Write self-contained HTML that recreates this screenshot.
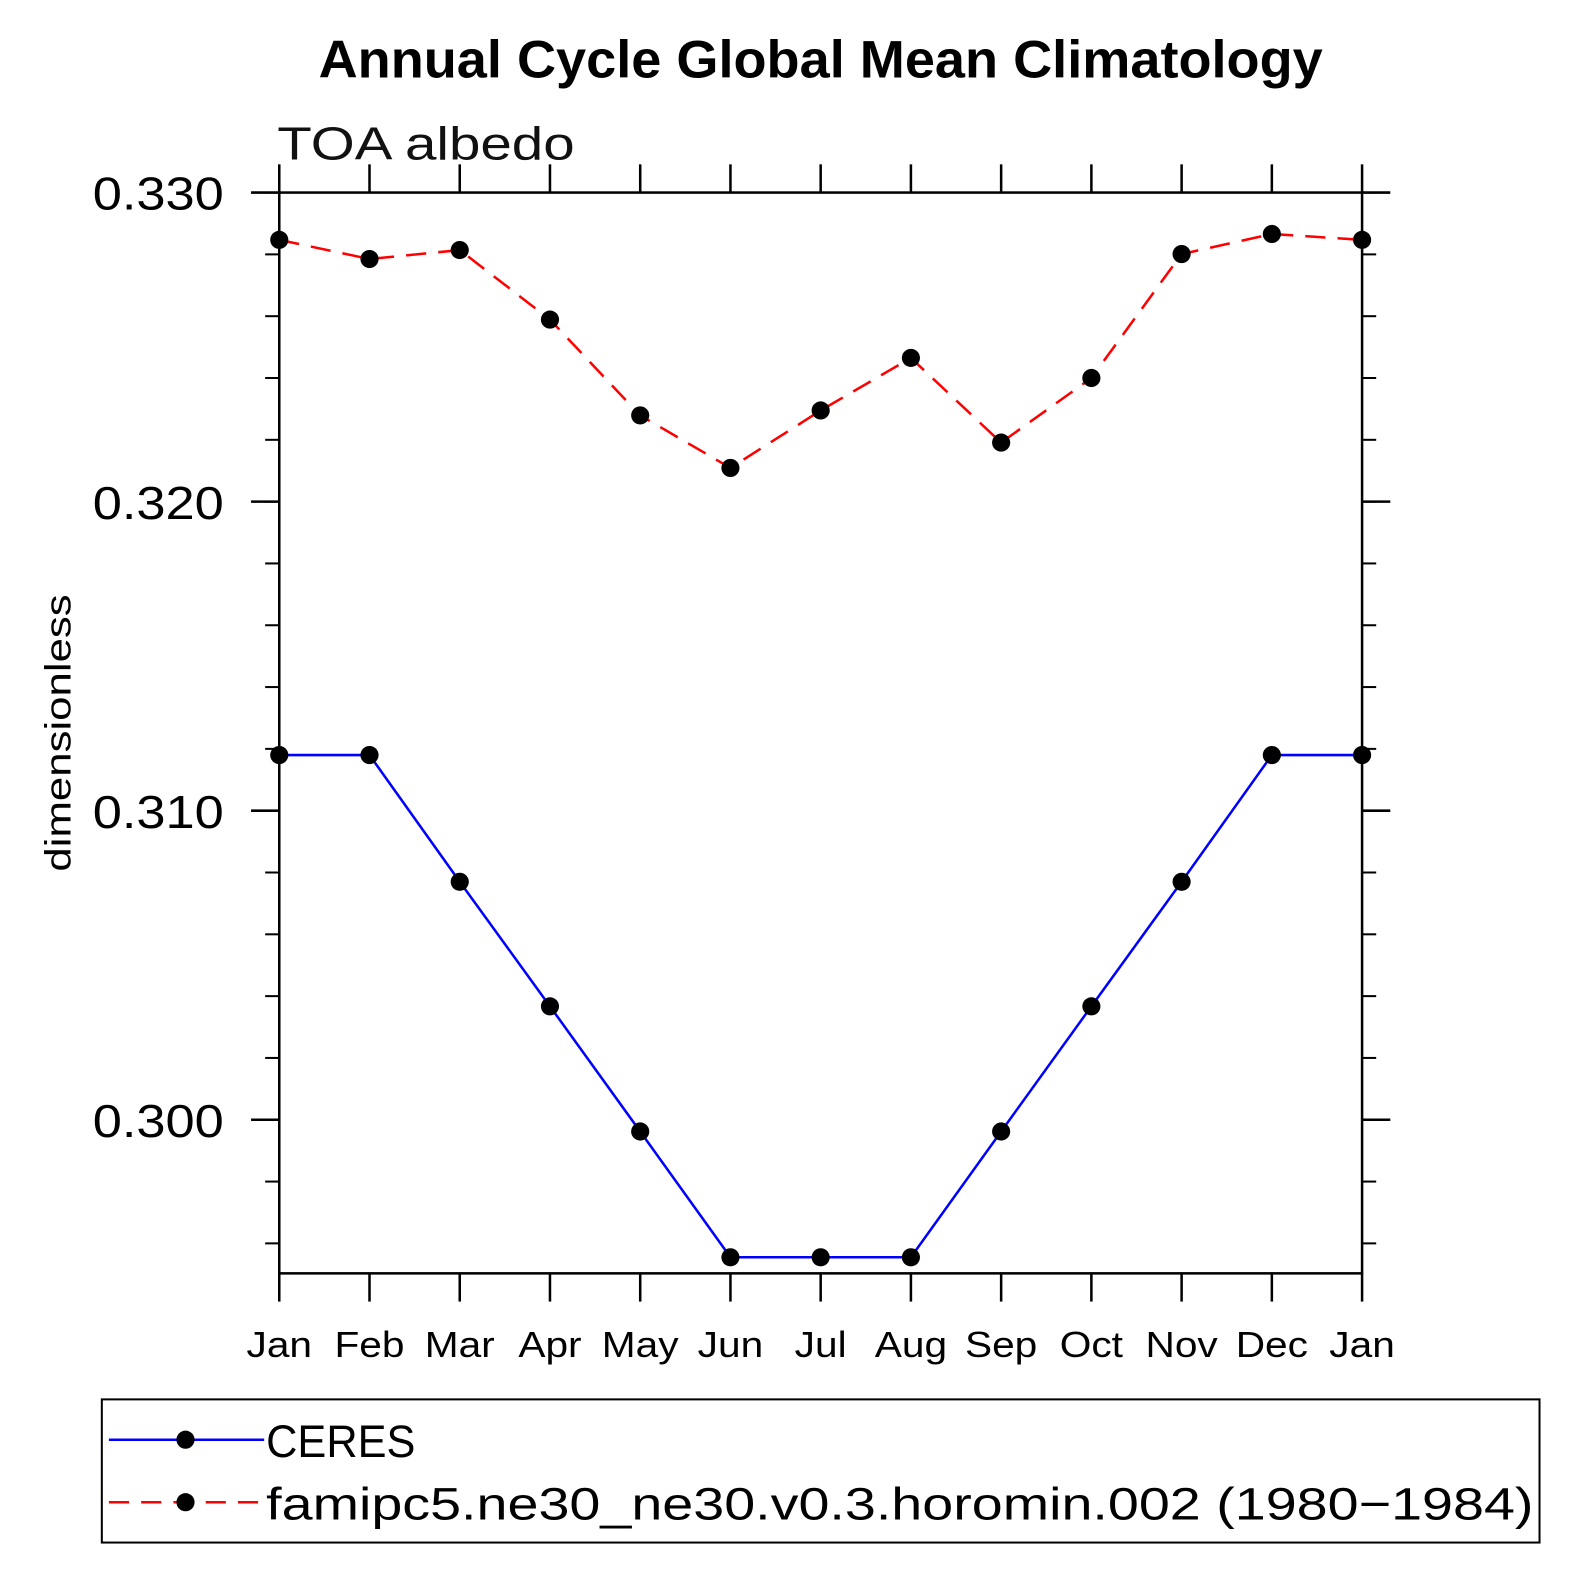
<!DOCTYPE html>
<html><head><meta charset="utf-8"><style>
html,body{margin:0;padding:0;background:#fff;}
svg{display:block;}
text{font-family:"Liberation Sans",sans-serif;}
</style></head><body>
<svg id="chart" width="1580" height="1580" viewBox="0 0 1580 1580" xmlns="http://www.w3.org/2000/svg">
<g transform="scale(1.0082)">
<text x="316" y="77" font-size="52" font-weight="bold" textLength="996" lengthAdjust="spacingAndGlyphs">Annual Cycle Global Mean Climatology</text>
<text x="275" y="158" font-size="46" fill="#111" textLength="295" lengthAdjust="spacingAndGlyphs">TOA albedo</text>
<text transform="translate(70,727) rotate(-90)" font-size="36" text-anchor="middle" textLength="275" lengthAdjust="spacingAndGlyphs">dimensionless</text>
<g id="axes"></g>
<g id="series"></g>
<rect x="101" y="1388" width="1426" height="142" fill="none" stroke="#000" stroke-width="2"/>
<g>
<line x1="108" y1="1428" x2="262" y2="1428" stroke="#00f" stroke-width="2.5"/>
<circle cx="184" cy="1428" r="9"/>
<text x="264" y="1445" font-size="45" textLength="148" lengthAdjust="spacingAndGlyphs">CERES</text>
</g>
<g>
<line x1="108" y1="1490" x2="262" y2="1490" stroke="#f00" stroke-width="2.5" stroke-dasharray="20,12"/>
<circle cx="184" cy="1490" r="9"/>
<text x="264" y="1507" font-size="45" textLength="1257" lengthAdjust="spacingAndGlyphs">famipc5.ne30_ne30.v0.3.horomin.002 (1980−1984)</text>
</g>
</g>
</svg>
<script>
const months = ["Jan","Feb","Mar","Apr","May","Jun","Jul","Aug","Sep","Oct","Nov","Dec","Jan"];
const ceres = [0.3118,0.3118,0.3077,0.30367,0.29962,0.29555,0.29555,0.29555,0.29962,0.30367,0.3077,0.3118,0.3118];
const model = [0.32847,0.32785,0.32814,0.32589,0.32279,0.32109,0.32295,0.32465,0.32191,0.3240,0.32801,0.32866,0.32847];
const yTicks = [0.300,0.310,0.320,0.330];
const yTickLabels = ["0.300","0.310","0.320","0.330"];
const yMin = 0.29503, yMax = 0.330;
const X0=277, X1=1351, Y0=191, Y1=1263;
const NS="http://www.w3.org/2000/svg";
function sx(i){return X0+(X1-X0)*i/(months.length-1);}
function sy(v){return Y1-(v-yMin)/(yMax-yMin)*(Y1-Y0);}
function mk(tag,attrs,parent){const e=document.createElementNS(NS,tag);for(const k in attrs)e.setAttribute(k,attrs[k]);parent.appendChild(e);return e;}
const ax=document.getElementById('axes');
const fr=mk('rect',{x:X0,y:Y0,width:X1-X0,height:Y1-Y0,fill:'none',stroke:'#000','stroke-width':2.5},ax);


months.forEach((m,i)=>{
  const x=sx(i);
  mk('line',{x1:x,y1:Y1,x2:x,y2:Y1+28,stroke:'#000','stroke-width':2.5},ax);
  mk('line',{x1:x,y1:Y0,x2:x,y2:Y0-28,stroke:'#000','stroke-width':2.5},ax);
  const t=mk('text',{x:x,y:1346,'font-size':36,'text-anchor':'middle'},ax);
  t.textContent=m;
  
  
  const w=t.getComputedTextLength();
  if(w>0){t.setAttribute('textLength',w*1.12);t.setAttribute('lengthAdjust','spacingAndGlyphs');}
});
for(let v=0.296;v<0.3301;v+=0.002){
  const y=sy(v);
  mk('line',{x1:X0,y1:y,x2:X0-14,y2:y,stroke:'#000','stroke-width':2},ax);
  mk('line',{x1:X1,y1:y,x2:X1+14,y2:y,stroke:'#000','stroke-width':2},ax);
}
yTicks.forEach((v,i)=>{
  const y=sy(v);
  mk('line',{x1:X0,y1:y,x2:X0-28,y2:y,stroke:'#000','stroke-width':2.5},ax);
  mk('line',{x1:X1,y1:y,x2:X1+28,y2:y,stroke:'#000','stroke-width':2.5},ax);
  const t=mk('text',{x:92,y:y+17,'font-size':46,textLength:130,lengthAdjust:'spacingAndGlyphs'},ax);
  t.textContent=yTickLabels[i];
  
  
});
const sg=document.getElementById('series');
function drawSeries(vals,color,dash,name){
  const g=mk('g',{},sg);
  
  
  const pts=vals.map((v,i)=>sx(i)+','+sy(v)).join(' ');
  const pl=mk('polyline',{points:pts,fill:'none',stroke:color,'stroke-width':2.5,'stroke-dasharray':dash},g);
  
  
  vals.forEach((v,i)=>{
    const c=mk('circle',{cx:sx(i),cy:sy(v),r:9,fill:'#000'},g);
    
    
  });
}
drawSeries(ceres,'#00f','none','ceres-series');
drawSeries(model,'#f00','20,12','model-series');
</script>
</body></html>
